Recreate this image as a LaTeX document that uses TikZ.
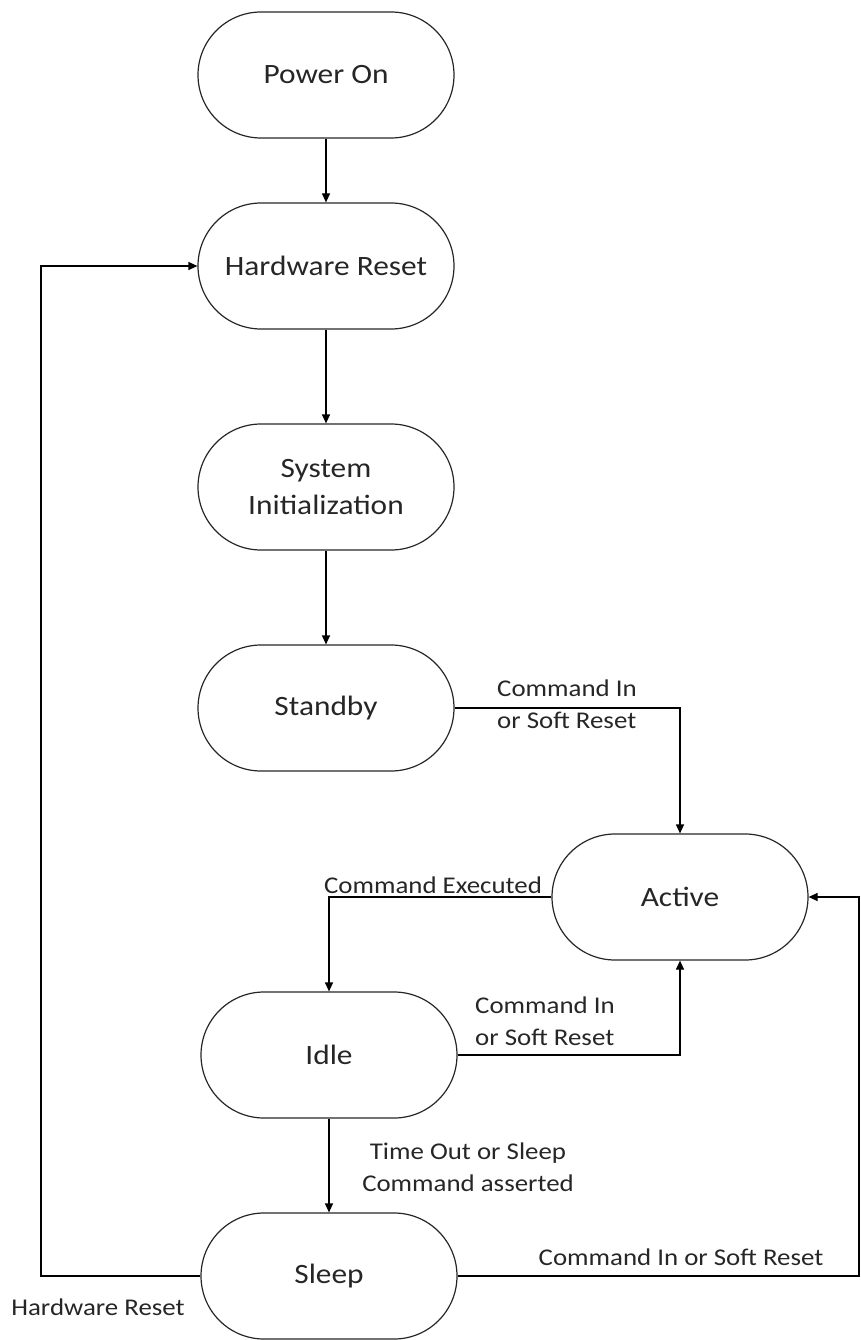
\documentclass[tikz,border=0pt]{standalone}
\usepackage{fontspec}
\setmainfont{Carlito}[FakeStretch=1.12]
\usetikzlibrary{shapes.misc,arrows.meta}
\begin{document}
\begin{tikzpicture}[x=1pt,y=-1pt,
  state/.style={draw=black!85, line width=1.2pt, rounded rectangle, minimum width=256pt, minimum height=126pt, inner sep=0pt, font=\fontsize{28}{37}\selectfont, align=center, text=black!85},
  conn/.style={draw=black, line width=1.2pt},
  arr/.style={conn, -{Triangle[length=9pt,width=8pt]}},
  lbl/.style={font=\fontsize{24}{32}\selectfont, inner sep=0pt, text=black!85}]
\useasboundingbox (0,0) rectangle (861,1340);
\node[state] (pwr) at (326,75) {Power On};
\node[state] (hr) at (326,266) {Hardware Reset};
\node[state] (sys) at (326,487) {System\\Initialization};
\node[state] (stby) at (326,708) {Standby};
\node[state] (act) at (680,897) {Active};
\node[state] (idle) at (329,1055) {Idle};
\node[state] (slp) at (329,1276) {Sleep};
\coordinate (lft) at (41,0);
\coordinate (rgt) at (859,0);
\draw[arr] (pwr.south) -- (hr.north);
\draw[arr] (hr.south) -- (sys.north);
\draw[arr] (sys.south) -- (stby.north);
\draw[arr] (stby.east) -| (act.north);
\draw[arr] (act.west) -| (idle.north);
\draw[arr] (idle.east) -| (act.south);
\draw[arr] (idle.south) -- (slp.north);
\draw[arr] (slp.west) -- (slp.west -| lft) -- (hr.west -| lft) -- (hr.west);
\draw[arr] (slp.east) -- (slp.east -| rgt) -- (act.east -| rgt) -- (act.east);
\node[lbl, anchor=west, align=left] (l1) at (497,704) {Command In\\or Soft Reset};
\node[lbl] (l2) at (433,885) {Command Executed};
\node[lbl, anchor=west, align=left] (l3) at (475,1021) {Command In\\or Soft Reset};
\node[lbl, align=center] (l4) at (468,1167) {Time Out or Sleep\\Command asserted};
\node[lbl] (l5) at (681,1257) {Command In or Soft Reset};
\node[lbl] (l6) at (98,1307) {Hardware Reset};
\end{tikzpicture}
\end{document}
